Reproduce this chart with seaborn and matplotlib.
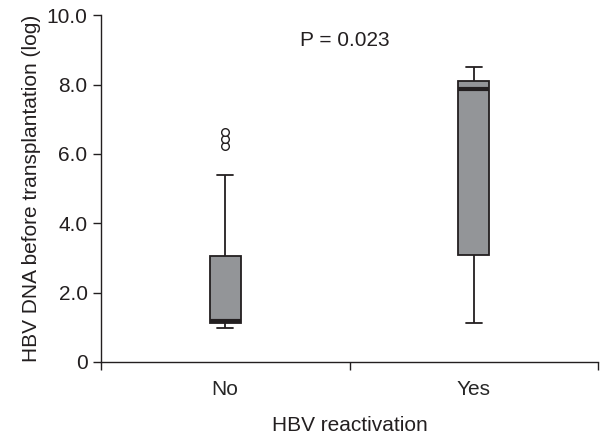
import numpy as np
import pandas as pd
import matplotlib
matplotlib.use("Agg")
import matplotlib.pyplot as plt
import seaborn as sns

# Values (log HBV DNA)
no_values = [0.98, 1.02, 1.06, 1.10, 1.13, 1.14, 1.15, 1.17, 1.18,
             1.40, 1.90, 2.50, 3.06, 5.40, 6.23, 6.43, 6.62]
yes_values = [1.11, 2.00, 3.08, 6.50, 7.88, 8.00, 8.11, 8.30, 8.51]
groups = ["No", "Yes"]
y_ticks = [0, 2, 4, 6, 8, 10]
y_ticklabels = ["0", "2.0", "4.0", "6.0", "8.0", "10.0"]

df = pd.DataFrame({
    "group": ["No"] * len(no_values) + ["Yes"] * len(yes_values),
    "value": no_values + yes_values,
})

sns.set_style("ticks")
plt.rcParams["font.family"] = ["Liberation Sans", "DejaVu Sans"]
fs = 15

fig = plt.figure(figsize=(6.0, 4.34), dpi=100)
ax = fig.add_axes([0.168, 0.166, 0.829, 0.799])

edge = "#231f20"
sns.boxplot(
    data=df, x="group", y="value", order=groups, ax=ax,
    width=0.125, color="#939598", saturation=1, linewidth=1.3,
    whis=1.5,
    boxprops=dict(facecolor="#939598", edgecolor=edge),
    whiskerprops=dict(color=edge),
    capprops=dict(color=edge),
    medianprops=dict(color=edge, linewidth=3),
    flierprops=dict(marker="o", markersize=5.5, markerfacecolor="white",
                    markeredgecolor=edge, markeredgewidth=1),
)

ax.set_xlim(-0.5, 1.5)
ax.set_ylim(0, 10)
ax.set_yticks(y_ticks)
ax.set_yticklabels(y_ticklabels, fontsize=fs)

# boundary ticks on x axis, labels at category centers
ax.set_xticks([-0.5, 0.5, 1.5])
ax.set_xticklabels(["", "", ""])
ax.set_xticks([0, 1], minor=True)
ax.set_xticklabels(groups, minor=True, fontsize=fs)
ax.tick_params(axis="x", which="minor", length=0, pad=13)
ax.tick_params(axis="x", which="major", length=6, width=1, color=edge)
ax.tick_params(axis="y", length=6, width=1, color=edge, colors="#231f20")

ax.set_xlabel("HBV reactivation", fontsize=fs, labelpad=12, color="#231f20")
ax.set_ylabel("HBV DNA before transplantation (log)", fontsize=fs, color="#231f20")

for side in ["top", "right"]:
    ax.spines[side].set_visible(False)
for side in ["left", "bottom"]:
    ax.spines[side].set_color(edge)
    ax.spines[side].set_linewidth(1)

ax.text(0.48, 9.28, "P = 0.023", ha="center", va="center", fontsize=fs, color="#231f20")

fig.savefig("out.png", dpi=100)
